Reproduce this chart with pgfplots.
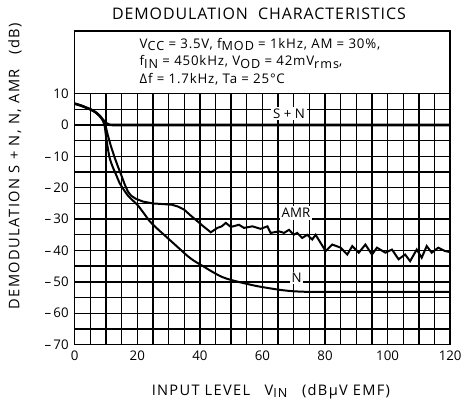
\documentclass[border=0pt]{standalone}
\usepackage{pgfplots}
\pgfplotsset{compat=1.18}
\usepackage{fontspec}
\setmainfont{Open Sans}
\newcommand{\sub}[1]{\raisebox{-0.35ex}{\fontsize{9.5}{10}\selectfont\addfontfeatures{LetterSpace=8}#1}}
\begin{document}
\begin{tikzpicture}
\begin{axis}[
  scale only axis, width=282.75pt, height=236.25pt,
  xmin=0, xmax=120, ymin=-70, ymax=30,
  xtick={0,20,...,120}, minor x tick num=3,
  ytick={-70,-60,...,10}, minor y tick num=1,
  yticklabels={–\,70,–\,60,–\,50,–\,40,–\,30,–\,20,–\,10,0,10},
  grid=both,
  major grid style={black, line width=1.05pt},
  minor grid style={black, line width=1.05pt},
  major tick length=0pt, minor tick length=0pt,
  axis line style={line width=1.2pt},
  tick label style={font=\fontsize{10}{12}\selectfont},
  xticklabel style={yshift=-1pt},
  yticklabel style={xshift=-1pt},
  /pgf/number format/assume math mode=true,
  clip=true,
]
\fill[white] (axis cs:0,10) rectangle (axis cs:120,30);
\draw[line width=1.05pt] (axis cs:0,10) -- (axis cs:120,10);
\draw[line width=1.2pt] (rel axis cs:0,0) rectangle (rel axis cs:1,1);
% S+N
\addplot[black, line width=1.9pt] coordinates {
(0,6.8) (2,6.2) (4,5.4) (5,5) (6,4.5) (7,3.8) (8,2.9) (9,1.7) (10,0.6) (11,0.1) (12,0) (120,0)};
% N
\addplot[black, line width=1.5pt, smooth] coordinates {
(0,6.8) (2,6.2) (4,5.4) (6,4.5) (7,3.8) (8,2.9) (9,1.4) (9.6,-0.5) (10.1,-4.3) (11.1,-10.2) (12.2,-13.5) (13.3,-16) (14.3,-18.4) (15.4,-20.2) (17,-22.5) (18.5,-24) (20,-25.4) (22,-28) (24,-30.7) (26,-32.7) (28,-34.5) (30,-36.3) (32,-38.1) (34,-39.9) (36,-41.7) (38,-43.2) (40,-44.4) (42,-45.6) (44,-46.8) (47,-48.4) (50,-49.4) (54,-50.4) (58,-51.3) (62,-52) (66,-52.6) (70,-53) (75,-53.2) (80,-53.2) (120,-53.2)};
% AMR
\addplot[black, line width=1.5pt] coordinates {
(0,6.8) (2,6.2) (4,5.4) (6,4.5) (7,3.8) (8,2.9) (9,1.6) (10,-0.8) (10.6,-3.3) (11.5,-6.5) (12.7,-10.2) (13.8,-13.2) (14.9,-16) (16,-19) (17,-21.2) (18,-22.5) (19.5,-23.5) (21.8,-24.4) (25,-25) (28,-25.2) (31,-25.4) (33,-26) (35,-27) (37,-28.8) (39,-30.5) (41,-32.2) (43.5,-34.2) (45.6,-32.8) (47,-32.3) (48.3,-31.2) (49.9,-32.5) (52.5,-31.8) (54.1,-32.8) (56.8,-32.3) (59.4,-33.1) (61.6,-32.3) (62.6,-34.4) (65.3,-33.9) (66.9,-34.4) (68.5,-33.4) (70,-35) (71.1,-34.4) (72.7,-36) (74.3,-35) (75.9,-36.5) (77,-35) (80.2,-40.2) (82.3,-38.1) (85,-39.1) (87.1,-41.3) (88.7,-38.6) (90.8,-40.7) (92.9,-38.1) (95,-41.3) (96.6,-39.1) (99.3,-40.7) (101.4,-39.7) (103.5,-42.8) (105.6,-41.3) (107.2,-43.4) (109.3,-39.7) (110.9,-42.3) (112.5,-38.6) (114.1,-40.7) (116.2,-39.1) (118.4,-40.2) (120,-40.5)};
\node[fill=white, inner sep=1.5pt, font=\fontsize{10}{12}\selectfont] at (axis cs:68.5,3.7) {S + N};
\node[fill=white, inner sep=1.5pt, font=\fontsize{10}{12}\selectfont] at (axis cs:70.7,-28) {AMR};
\node[fill=white, inner sep=1pt, font=\fontsize{10}{12}\selectfont] at (axis cs:70.9,-48.8) {N};
\end{axis}
\node[font=\fontsize{12}{14}\selectfont\addfontfeatures{LetterSpace=6}] at (138.75pt,249pt) {DEMODULATION\ \ CHARACTERISTICS};
\begin{scope}[every node/.style={anchor=base west, inner sep=0pt, font=\fontsize{10}{12}\selectfont\addfontfeatures{LetterSpace=6}}]
\node at (48.75pt,223pt) {V\sub{CC} = 3.5V, f\sub{MOD} = 1kHz, AM = 30\%,};
\node at (48.75pt,209.8pt) {f\sub{IN} = 450kHz, V\sub{OD} = 42mV\sub{rms},};
\node at (48.75pt,196.8pt) {Δf = 1.7kHz, Ta = 25°C};
\end{scope}
\node[rotate=90, font=\fontsize{11}{12}\selectfont\addfontfeatures{LetterSpace=10}] at (-45pt,134.25pt) {DEMODULATION S + N, N, AMR\quad (dB)};
\node[font=\fontsize{11}{12}\selectfont\addfontfeatures{LetterSpace=9}] at (147.75pt,-35.25pt) {INPUT LEVEL\quad V\sub{IN}\quad (dBμV EMF)};
\path[use as bounding box] (-56.25pt,-43.5pt) rectangle (293.25pt,259.5pt);
\end{tikzpicture}
\end{document}
